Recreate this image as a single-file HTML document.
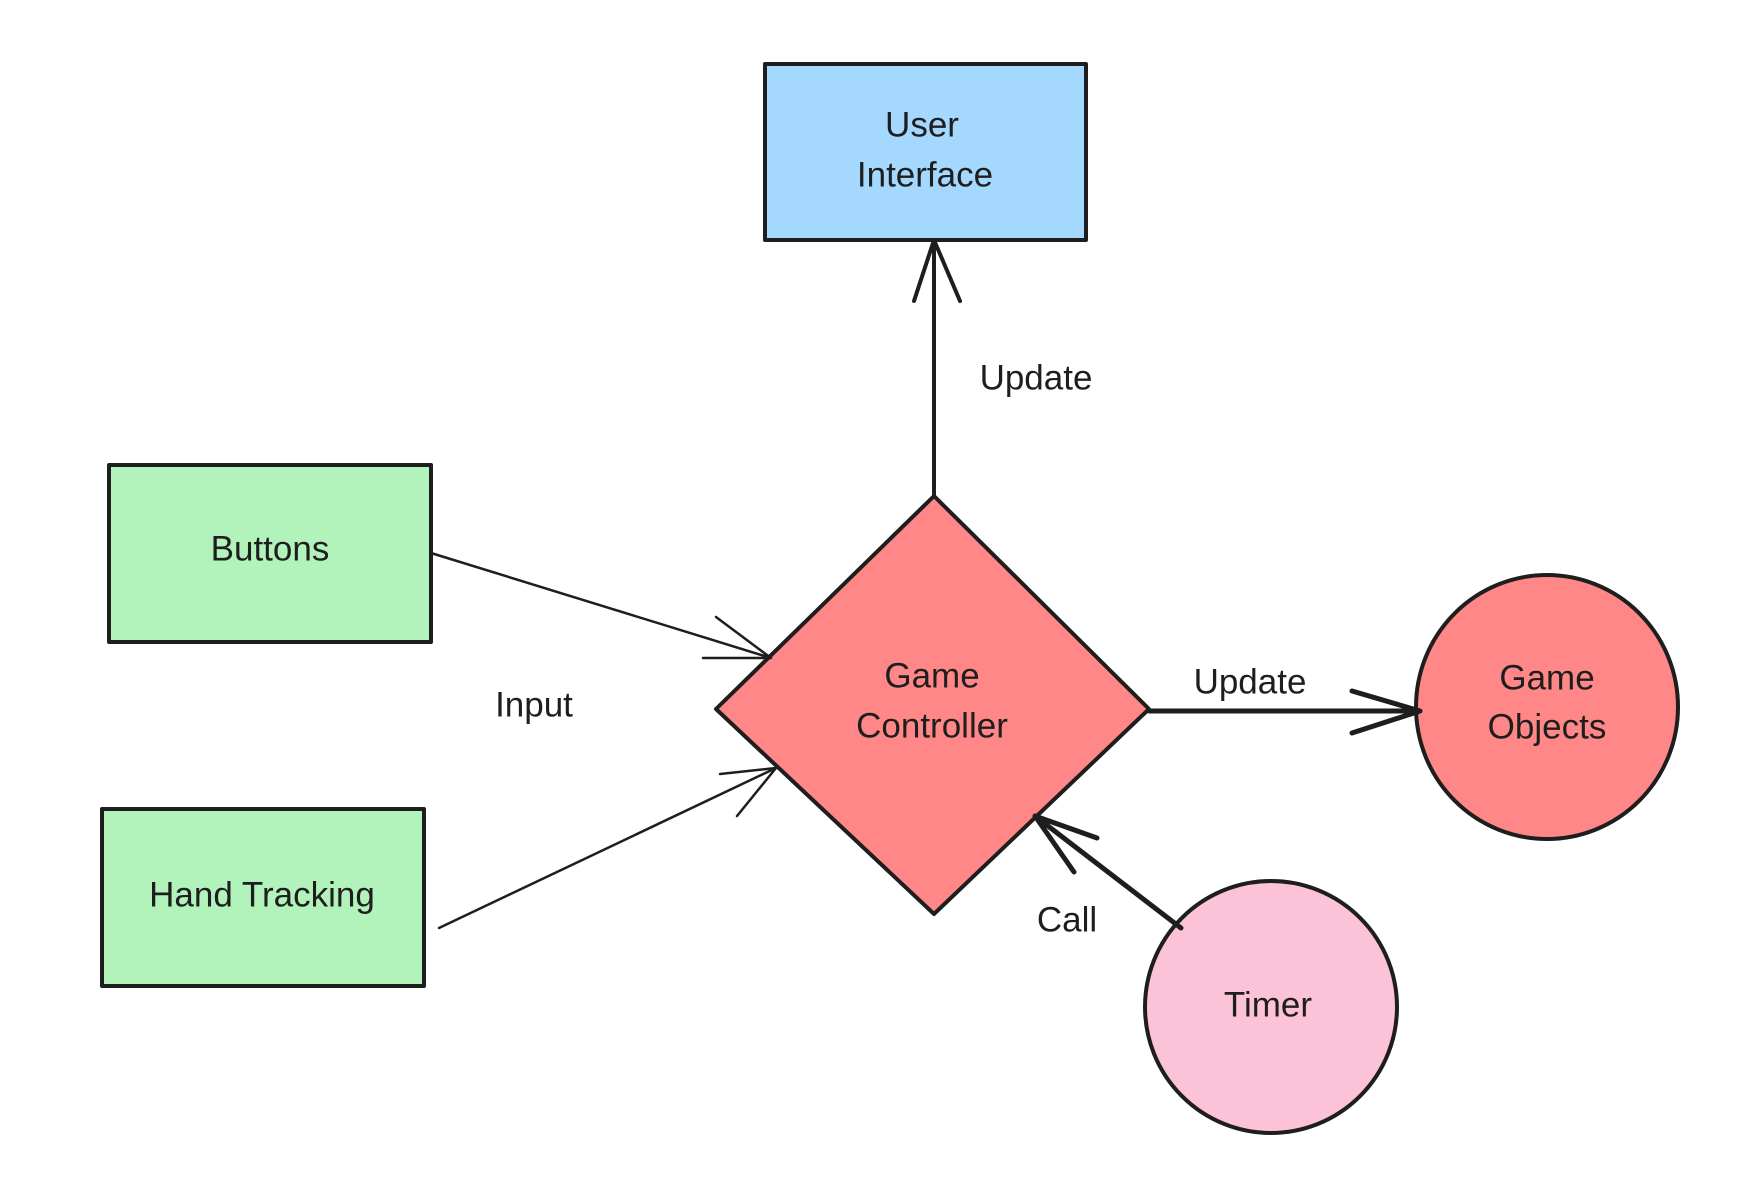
<!DOCTYPE html>
<html><head><meta charset="utf-8"><style>
html,body{margin:0;padding:0;background:#fff;}
svg{display:block;}
text{font-family:"Liberation Sans",sans-serif;font-size:35px;fill:#1e1e1e;text-anchor:middle;dominant-baseline:middle;}
</style></head><body>
<svg width="1764" height="1182" viewBox="0 0 1764 1182" xmlns="http://www.w3.org/2000/svg">
<g stroke="#1e1e1e" stroke-width="4" stroke-linejoin="round" stroke-linecap="round">
<rect x="765" y="64" width="321" height="176" fill="#a5d8ff"/>
<rect x="109" y="465" width="322" height="177" fill="#b2f2bb"/>
<rect x="102" y="809" width="322" height="177" fill="#b2f2bb"/>
<polygon points="934,496 1149,709 934,914 716,709" fill="#ff8787"/>
<ellipse cx="1547" cy="707" rx="131" ry="132" fill="#ff8787"/>
<ellipse cx="1271" cy="1007" rx="126" ry="126" fill="#fcc2d7"/>
<g fill="none">
<path d="M934,496 L934,240 M914,301 L934,240 L960,301"/>
<path d="M1149,711 L1420,711 M1352,691 L1420,711 L1352,733" stroke-width="5"/>
<path d="M1181,928 L1035,816 M1097,838 L1035,816 L1074,872" stroke-width="5"/>
<path d="M431,553 L771,658 M716,617 L771,658 L703,658" stroke-width="2.5"/>
<path d="M439,928 L776,768 M737,816 L776,768 L720,774" stroke-width="2.5"/>
</g>
</g>
<text x="922" y="127">User</text>
<text x="925" y="177">Interface</text>
<text x="1036" y="380">Update</text>
<text x="534" y="707">Input</text>
<text x="1250" y="684">Update</text>
<text x="1067" y="922">Call</text>
<text x="270" y="551">Buttons</text>
<text x="262" y="897">Hand Tracking</text>
<text x="932" y="678">Game</text>
<text x="932" y="728">Controller</text>
<text x="1547" y="680">Game</text>
<text x="1547" y="729">Objects</text>
<text x="1268" y="1007">Timer</text>
</svg>
</body></html>
